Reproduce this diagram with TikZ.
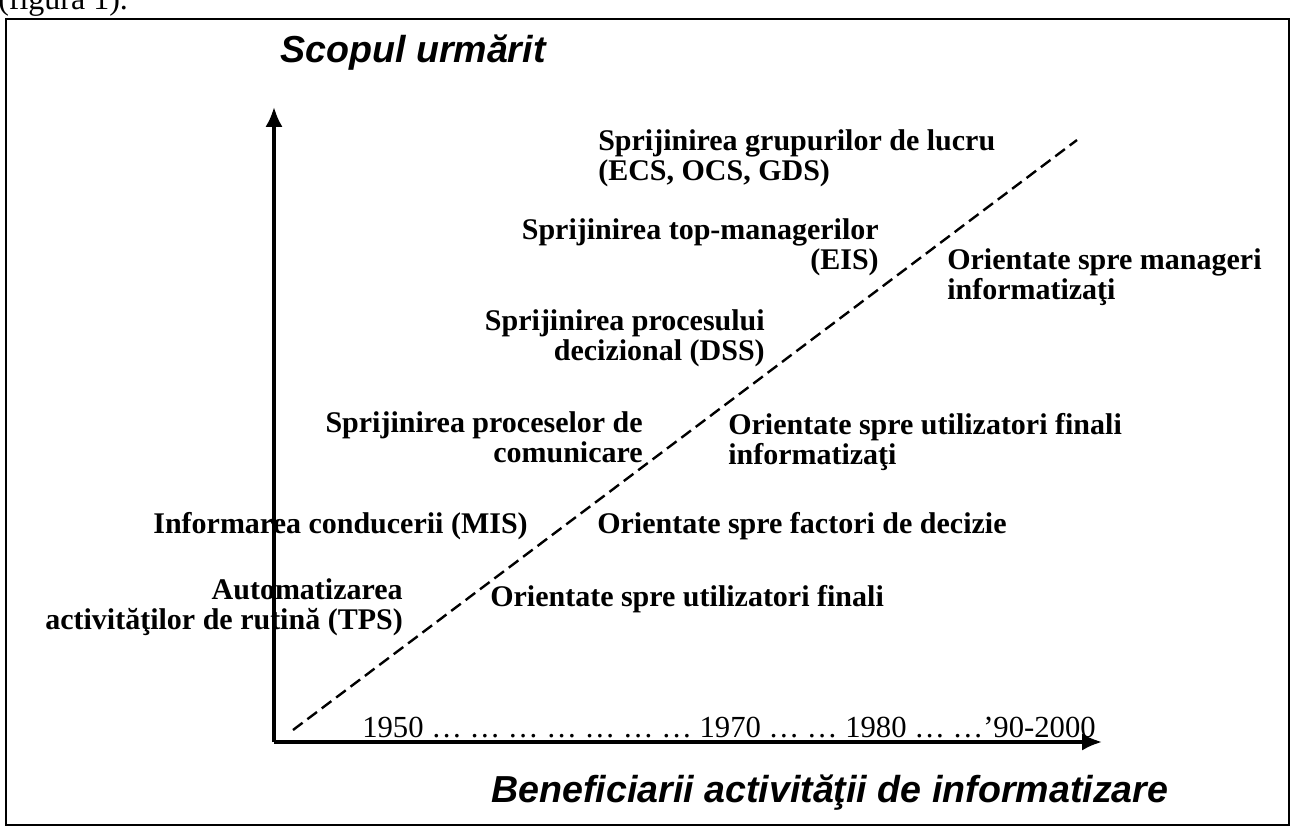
\documentclass[tikz,border=0pt]{standalone}
\usepackage{fontspec}
\setmainfont{Liberation Serif}
\newfontfamily\axisfont{Liberation Sans}
\usetikzlibrary{arrows.meta,positioning}

\tikzset{
  lbl/.style={font=\fontsize{22.5}{22.5}\selectfont\bfseries, inner sep=0pt},
  lblr/.style={lbl, anchor=east, align=right},
  lbll/.style={lbl, anchor=west, align=left},
  axtitle/.style={font=\axisfont\fontsize{28.2}{28.2}\selectfont\bfseries\itshape, inner sep=0pt, anchor=base west},
}

\begin{document}
\begin{tikzpicture}[x=0.75pt,y=-0.75pt,>={Latex[length=15pt,width=13pt]}]
\useasboundingbox (0,0) rectangle (1296,831);
\node[anchor=base west, inner sep=0pt, font=\fontsize{24}{24}\selectfont] (fig) at (-2,10) {(figura 1).};
\draw[line width=2.2pt] (6,19) rectangle (1289,825);

% axes
\coordinate (O) at (274,742);
\coordinate (ytop) at (274,107);
\coordinate (xend) at (1102,742);
\draw[->, line width=2.5pt] (O) -- (ytop);
\draw[->, line width=2.5pt] (O) -- (xend);

% boundary line
\coordinate (d1) at (293,730);
\coordinate (d2) at (1077,140);
\draw[line width=1.8pt, dash pattern=on 9pt off 4.5pt] (d1) -- (d2);

\node[axtitle] (scop) at (280,63) {Scopul urmărit};
\node[axtitle] (benef) at (491,802) {Beneficiarii activităţii de informatizare};
\node[anchor=base west, inner sep=0pt, font=\fontsize{23}{23}\selectfont] (ani) at (362,737)
  {1950 … … … … … … … 1970 … … 1980 … …’90-2000};

% left of the line
\node[lbll] (grup) at (598,158) {Sprijinirea grupurilor de lucru\\(ECS, OCS, GDS)};
\node[lblr] (eis) at (879,247) {Sprijinirea top-managerilor\\(EIS)};
\node[lblr] (dss) at (765,338) {Sprijinirea procesului\\decizional (DSS)};
\node[lblr] (com) at (643,437) {Sprijinirea proceselor de\\comunicare};
\node[lblr] (mis) at (528,526) {Informarea conducerii (MIS)};
\node[lblr] (tps) at (403,607) {Automatizarea\\activităţilor de rutină (TPS)};

% right of the line
\node[lbll] (mgr) at (947,277) {Orientate spre manageri\\informatizaţi};
\node[lbll] (ufi) at (728,442) {Orientate spre utilizatori finali\\informatizaţi};
\node[lbll] (fd) at (597,526) {Orientate spre factori de decizie};
\node[lbll] (uf) at (490,599) {Orientate spre utilizatori finali};

\end{tikzpicture}
\end{document}
